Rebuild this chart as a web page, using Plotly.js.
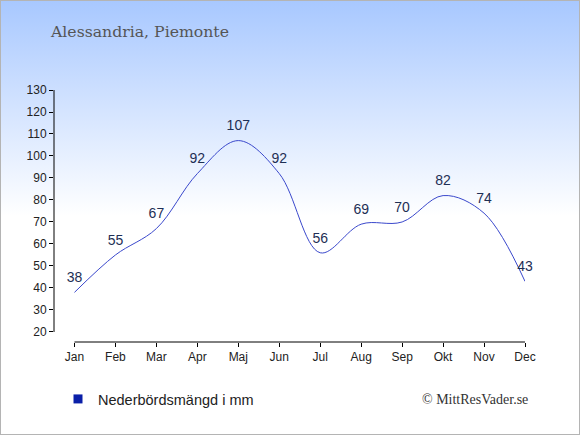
<!DOCTYPE html>
<html>
<head>
<meta charset="utf-8">
<script src="https://cdn.plot.ly/plotly-3.0.1.min.js"></script>
<style>
html,body{margin:0;padding:0;}
#wrap{width:578px;height:433px;border:1px solid #b4b4b4;background:linear-gradient(to bottom,#a8c8ff 0px,#ffffff 215px,#ffffff 433px);position:relative;}
#chart{width:578px;height:433px;}
</style>
</head>
<body>
<div id="wrap"><div id="chart"></div></div>
<script>
const months = ["Jan","Feb","Mar","Apr","Maj","Jun","Jul","Aug","Sep","Okt","Nov","Dec"];
const precipitation = [38,55,67,92,107,92,56,69,70,82,74,43];
const yTicks = [20,30,40,50,60,70,80,90,100,110,120,130];
const seriesName = "Nederbördsmängd i mm";
const titleText = "Alessandria, Piemonte";
const creditText = "© MittResVader.se";

const idx = months.map((m,i)=>i);

const traces = [
  {
    x: idx, y: precipitation, type: "scatter", mode: "lines+markers+text",
    line: {color: "#3a48cc", width: 1, shape: "spline", smoothing: 1},
    marker: {size: 9, color: "rgba(0,0,0,0)"},
    text: precipitation.map(String), textposition: "top center",
    textfont: {family: "Liberation Sans, Arial, sans-serif", size: 14, color: "#1e2f55"},
    cliponaxis: false, showlegend: false, hoverinfo: "skip"
  },
  {
    x: [null], y: [null], type: "scatter", mode: "markers", name: seriesName,
    marker: {symbol: "square", size: 9, color: "#0a1fa8"},
    showlegend: true, hoverinfo: "skip"
  }
];

const L = 53, T = 89, W = 471, H = 252;
const layout = {
  width: 578, height: 433,
  margin: {l: L, r: 578 - L - W, t: T, b: 433 - T - H, autoexpand: false},
  paper_bgcolor: "rgba(0,0,0,0)", plot_bgcolor: "rgba(0,0,0,0)",
  title: {text: titleText, x: 50/578, xanchor: "left", xref: "container", y: 1-31/433, yanchor: "middle",
          font: {family: "DejaVu Serif, serif", size: 15.7, color: "#555555"}},
  xaxis: {
    range: [-0.5, 11], tickmode: "array", tickvals: idx, ticktext: months, tickangle: 0,
    showgrid: false, zeroline: false, showline: false,
    ticks: "outside", ticklen: 4, tickcolor: "#000", tickwidth: 1,
    tickfont: {family: "Liberation Sans, Arial, sans-serif", size: 12, color: "#222"}, fixedrange: true
  },
  yaxis: {
    range: [15.44, 130], tickmode: "array", tickvals: yTicks,
    showgrid: false, zeroline: false, showline: false,
    ticks: "outside", ticklen: 4, tickcolor: "#000", tickwidth: 1,
    tickfont: {family: "Liberation Sans, Arial, sans-serif", size: 12, color: "#222"}, fixedrange: true
  },
  shapes: [
    {type: "line", xref: "paper", yref: "y", x0: 0, x1: 0, y0: 20, y1: 130, line: {color: "#000", width: 1}},
    {type: "line", xref: "x", yref: "paper", x0: 0, x1: 11, y0: 0, y1: 0, line: {color: "#000", width: 1}}
  ],
  showlegend: true,
  legend: {x: (57-L)/W, y: (T+H-398)/H, yanchor: "middle", xanchor: "left",
           bgcolor: "rgba(0,0,0,0)", font: {family: "Liberation Sans, Arial, sans-serif", size: 14.5, color: "#222"}},
  annotations: [
    {text: creditText, xref: "paper", yref: "paper", x: (529-L)/W, y: (T+H-398)/H, xanchor: "right", yanchor: "middle",
     showarrow: false, font: {family: "Liberation Serif, serif", size: 14, color: "#333"}}
  ]
};

Plotly.newPlot("chart", traces, layout, {displayModeBar: false, staticPlot: true});
</script>
</body>
</html>
